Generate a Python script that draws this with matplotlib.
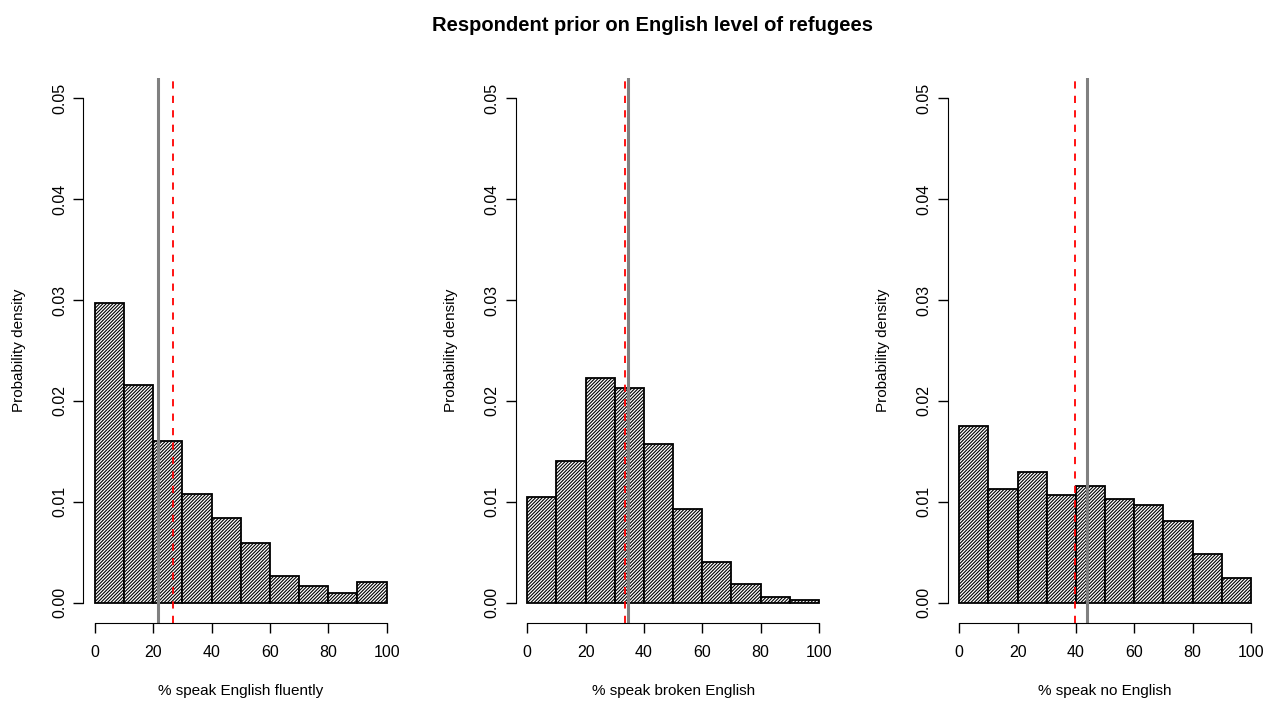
import numpy as np
import matplotlib.pyplot as plt

plt.rcParams['font.family'] = ['Liberation Sans', 'DejaVu Sans']
plt.rcParams['hatch.linewidth'] = 0.8

breaks = [0, 10, 20, 30, 40, 50, 60, 70, 80, 90, 100]

dens_fluent = [0.0297, 0.0216, 0.0160, 0.0108, 0.0084, 0.0059, 0.0027, 0.0017, 0.0010, 0.0021]
dens_broken = [0.0105, 0.0141, 0.0223, 0.0213, 0.0157, 0.0093, 0.0040, 0.0019, 0.0006, 0.0003]
dens_none = [0.0175, 0.0113, 0.0130, 0.0107, 0.0116, 0.0103, 0.0097, 0.0081, 0.0048, 0.0025]

# grey = true value, red dashed = mean of priors
true_vals = [21.5, 34.4, 43.7]
mean_vals = [26.6, 33.6, 39.8]

xlabels = ["% speak English fluently", "% speak broken English", "% speak no English"]
xticks = [0, 20, 40, 60, 80, 100]
yticks = [0.00, 0.01, 0.02, 0.03, 0.04, 0.05]

fig = plt.figure(figsize=(12.75, 7.02), dpi=100)
lefts = [0.0653, 0.4044, 0.7432]
data = [dens_fluent, dens_broken, dens_none]

for i in range(3):
    ax = fig.add_axes([lefts[i], 0.1125, 0.2471, 0.7764])
    b = np.array(breaks)
    ax.bar(b[:-1], data[i], width=np.diff(b), align='edge', facecolor='white',
           edgecolor='black', linewidth=1.3, hatch='//////////')
    ax.axvline(true_vals[i], color='#808080', lw=2.2)
    ax.axvline(mean_vals[i], color='red', lw=1.3, linestyle=(0, (4, 4)))
    ax.set_xlim(-4, 104)
    ax.set_ylim(-0.002, 0.052)
    ax.spines['top'].set_visible(False)
    ax.spines['right'].set_visible(False)
    ax.spines['bottom'].set_bounds(0, 100)
    ax.spines['left'].set_bounds(0, 0.05)
    ax.set_xticks(xticks)
    ax.set_yticks(yticks)
    ax.set_yticklabels(["%.2f" % v for v in yticks], rotation=90, va='center')
    ax.tick_params(length=7, width=1, labelsize=11.5)
    ax.tick_params(axis='x', pad=9)
    ax.tick_params(axis='y', pad=4.5)
    ax.set_xlabel(xlabels[i], fontsize=11, labelpad=17)
    ax.set_ylabel("Probability density", fontsize=11, labelpad=19)

fig.text(0.512, 0.963, "Respondent prior on English level of refugees",
         ha='center', va='center', fontsize=14.5, fontweight='bold')

plt.savefig("out.png", dpi=100)
